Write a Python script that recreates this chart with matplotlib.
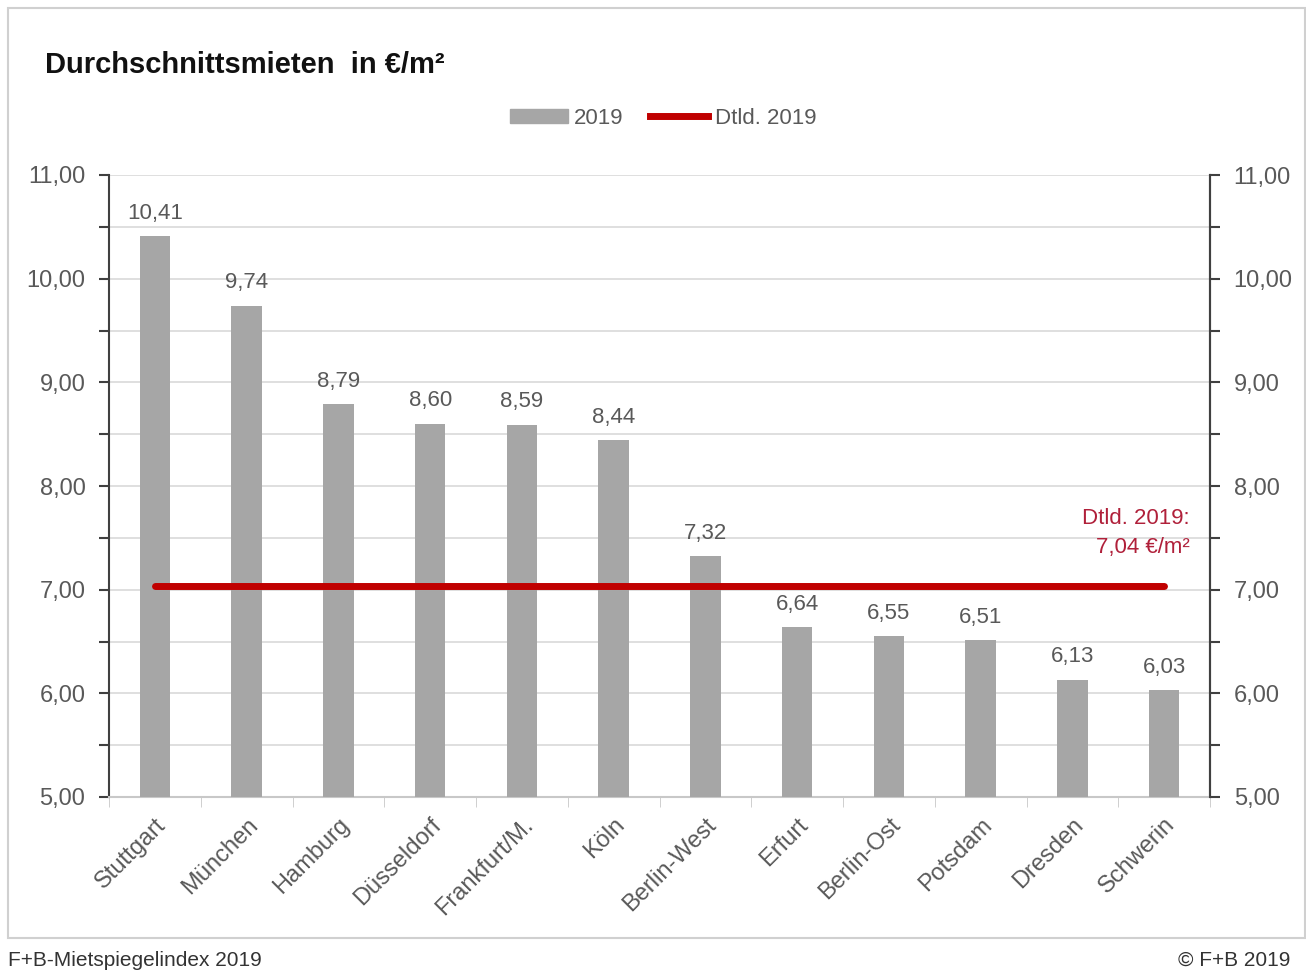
import numpy as np
import matplotlib.pyplot as plt
from matplotlib.patches import Rectangle
from matplotlib.lines import Line2D
from matplotlib.ticker import MultipleLocator, FuncFormatter

plt.rcParams['font.family'] = ['Liberation Sans Narrow', 'Liberation Sans', 'DejaVu Sans']

staedte = ["Stuttgart", "München", "Hamburg", "Düsseldorf", "Frankfurt/M.", "Köln",
           "Berlin-West", "Erfurt", "Berlin-Ost", "Potsdam", "Dresden", "Schwerin"]
mieten = [10.41, 9.74, 8.79, 8.60, 8.59, 8.44, 7.32, 6.64, 6.55, 6.51, 6.13, 6.03]
dtld = 7.04

grau = '#a6a6a6'
rot = '#c00000'
text_grau = '#595959'


def komma(v, pos=None):
    return f"{v:.2f}".replace('.', ',')


fig = plt.figure(figsize=(13.06, 9.71), dpi=100)
fig.add_artist(Rectangle((8 / 1306, 1 - 938 / 971), 1297 / 1306, 930 / 971,
                         transform=fig.transFigure, fill=False, edgecolor='#d0d0d0', lw=1.5))

ax = fig.add_axes([109 / 1306, 1 - 797 / 971, 1101 / 1306, 622 / 971])
x = np.arange(len(staedte))
ax.bar(x, [m - 5 for m in mieten], bottom=5, width=0.33, color=grau, zorder=3)
ax.plot([x[0], x[-1]], [dtld, dtld], color=rot, lw=5, solid_capstyle='round', zorder=4)

for xi, m in zip(x, mieten):
    ax.text(xi, m + 0.12, komma(m), ha='center', va='bottom', fontsize=16, color=text_grau)

ax.text(x[-1] + 0.28, 7.55, "Dtld. 2019:\n7,04 €/m²", ha='right', va='center',
        fontsize=16, color='#b0203a', linespacing=1.5)

ax.set_xlim(-0.5, len(staedte) - 0.5)
ax.set_ylim(5, 11)
ax.yaxis.set_major_locator(MultipleLocator(1))
ax.yaxis.set_minor_locator(MultipleLocator(0.5))
ax.yaxis.set_major_formatter(FuncFormatter(komma))
ax.grid(axis='y', which='both', color='#d9d9d9', lw=1.2, zorder=0)

ax.set_xticks(x)
ax.set_xticklabels(staedte, rotation=45, ha='right', rotation_mode='anchor',
                   fontsize=17, color=text_grau)
ax.set_xticks(np.arange(-0.5, len(staedte)), minor=True)
ax.tick_params(axis='x', which='major', length=0, pad=12)
ax.tick_params(axis='x', which='minor', length=7, color='#c8c8c8', direction='out')

ax.tick_params(axis='y', which='both', direction='out', length=7, width=1.5,
               color='#404040', labelsize=17, labelcolor=text_grau, pad=10)
ax.spines['top'].set_visible(False)
ax.spines['bottom'].set_color('#c8c8c8')
ax.spines['bottom'].set_linewidth(1.5)
ax.spines['left'].set_color('#404040')
ax.spines['left'].set_linewidth(1.5)
ax.spines['right'].set_color('#404040')
ax.spines['right'].set_linewidth(1.5)

ax2 = ax.twinx()
ax2.set_ylim(5, 11)
ax2.yaxis.set_major_locator(MultipleLocator(1))
ax2.yaxis.set_minor_locator(MultipleLocator(0.5))
ax2.yaxis.set_major_formatter(FuncFormatter(komma))
ax2.tick_params(axis='y', which='both', direction='out', length=7, width=1.5,
                color='#404040', labelsize=17, labelcolor=text_grau, pad=10)
for s in ['top', 'left', 'bottom']:
    ax2.spines[s].set_visible(False)
ax2.spines['right'].set_color('#404040')
ax2.spines['right'].set_linewidth(1.5)

fig.text(45 / 1306, 1 - 65 / 971, "Durchschnittsmieten  in €/m²", fontsize=21,
         fontweight='bold', color='#111111', va='center', ha='left')

handles = [Rectangle((0, 0), 1, 1, color=grau), Line2D([0], [0], color=rot, lw=5)]
fig.legend(handles, ["2019", "Dtld. 2019"], loc='center', bbox_to_anchor=(663 / 1306, 1 - 118 / 971),
           ncol=2, frameon=False, fontsize=16, labelcolor=text_grau, handlelength=2.6,
           handleheight=0.6, handletextpad=0.3, columnspacing=1.2)

fig.text(8 / 1306, 1 - 960 / 971, "F+B-Mietspiegelindex 2019", fontsize=15,
         color='#333333', va='center', ha='left')
fig.text(1290 / 1306, 1 - 960 / 971, "© F+B 2019", fontsize=15,
         color='#333333', va='center', ha='right')

fig.savefig('out.png', dpi=100)
